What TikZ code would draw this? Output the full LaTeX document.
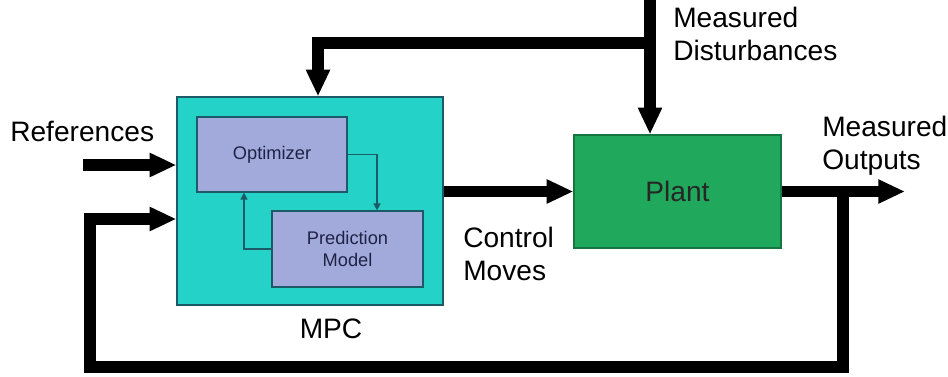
\documentclass[tikz,border=0pt]{standalone}
\usepackage{fontspec}
\setmainfont{Liberation Sans}
\usetikzlibrary{arrows.meta}

\definecolor{mpccyan}{RGB}{36,210,200}
\definecolor{optblue}{RGB}{162,170,220}
\definecolor{plantgreen}{RGB}{32,168,92}
\definecolor{darkteal}{RGB}{28,90,104}
\definecolor{boxtext}{RGB}{30,35,70}

\begin{document}
\begin{tikzpicture}[x=0.025cm,y=-0.025cm,
                    big/.style={line width=8pt,-{Triangle[length=19pt,width=16pt]}},
                    small/.style={darkteal,line width=1pt,-{Triangle[length=5pt,width=5pt]}},
                    block/.style={draw=darkteal,line width=0.8pt,fill=optblue,text=boxtext,
                                  font=\fontsize{13}{15.5}\selectfont,align=center},
                    lbl/.style={font=\fontsize{20}{23.5}\selectfont,inner sep=0pt}]

  \useasboundingbox (0,0) rectangle (948,376);

  \node[draw=darkteal,line width=0.8pt,fill=mpccyan,
        minimum width=6.65cm,minimum height=5.2cm] (mpc) at (310,201) {};
  \node[block,minimum width=3.75cm,minimum height=1.875cm]  (opt)  at (272,154.5) {Optimizer};
  \node[block,minimum width=3.775cm,minimum height=1.9cm]   (pred) at (347.5,249) {Prediction\\Model};
  \node[draw=plantgreen!70!black,line width=0.8pt,fill=plantgreen,text=black!85,
        minimum width=5.175cm,minimum height=2.825cm,
        font=\fontsize{20}{24}\selectfont] (plant) at (677.5,191.5) {Plant};

  \node[lbl,anchor=base west]            (refs)   at (10,141)  {References};
  \node[lbl,anchor=north west,align=left] (dist)  at (673,7)   {Measured\\Disturbances};
  \node[lbl,anchor=north west,align=left] (outs)  at (822,116) {Measured\\Outputs};
  \node[lbl,anchor=north west,align=left] (moves) at (463,227) {Control\\Moves};
  \node[lbl,anchor=base]                 (mpclbl) at (331,338) {MPC};

  \coordinate (refin)    at (83,165);
  \coordinate (disttop)  at (650,0);
  \coordinate (split)    at (650,43);
  \coordinate (mpcin)    at ([xshift=0.2cm]mpc.north);
  \coordinate (outend)   at (905,191.5);
  \coordinate (fbtap)    at (843,191.5);
  \coordinate (fbcorner) at (90,367);
  \coordinate (fbin)     at (90,219);

  \draw[big] (refin) -- (refin -| mpc.west);
  \draw[big] (fbtap) |- (fbcorner) |- (fbin -| mpc.west);
  \draw[big] (mpc.east |- plant) -- (plant.west);
  \draw[big] (plant.east) -- (outend);
  \draw[big] (disttop) -- (disttop |- plant.north);
  \draw[big] (split) -| (mpcin);

  \draw[small] (opt.east) -| ([xshift=0.7375cm]pred.north);
  \draw[small] (pred.west) -| ([xshift=-0.7cm]opt.south);
\end{tikzpicture}
\end{document}
